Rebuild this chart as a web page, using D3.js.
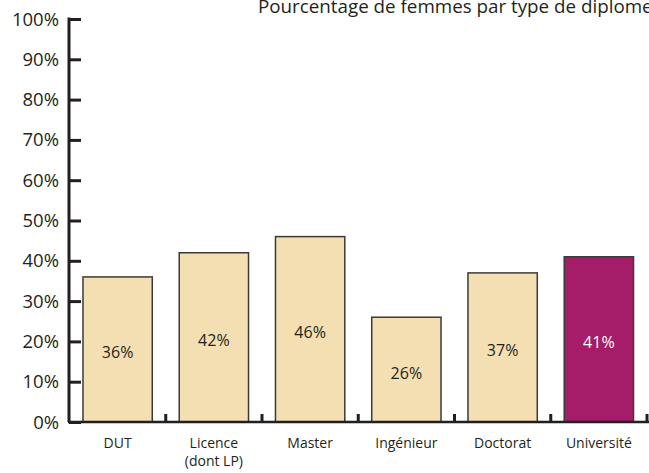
<!DOCTYPE html>
<html>
<head>
<meta charset="utf-8">
<script src="https://cdn.jsdelivr.net/npm/d3@7"></script>
<style>
  html, body { margin: 0; padding: 0; background: #fff; }
  svg { display: block; }
  text { font-family: "Open Sans", "Noto Sans", sans-serif; fill: #231f20; }
</style>
</head>
<body>
<svg id="chart" width="649" height="473"></svg>
<script>
const categories = ["DUT", "Licence\n(dont LP)", "Master", "Ingénieur", "Doctorat", "Université"];
const values = [36, 42, 46, 26, 37, 41];
const valueLabels = ["36%", "42%", "46%", "26%", "37%", "41%"];
const yTicks = [0, 10, 20, 30, 40, 50, 60, 70, 80, 90, 100];
const title = "Pourcentage de femmes par type de diplome";

const svg = d3.select("#chart");
const W = 649, H = 473;

const y = d3.scaleLinear().domain([0, 100]).range([422, 19]);
const x = d3.scaleBand().domain(categories).range([69.5, 647])
  .paddingInner(0.28).paddingOuter(0.14);

// title
svg.append("text")
  .attr("x", 258).attr("y", 13)
  .attr("font-size", 18.8)
  .text(title);

// bars
svg.selectAll("rect.bar").data(categories).join("rect")
  .attr("class", "bar")
  .attr("x", d => x(d))
  .attr("y", (d, i) => y(values[i]))
  .attr("width", x.bandwidth())
  .attr("height", (d, i) => y(0) - y(values[i]))
  .attr("fill", (d, i) => i === categories.length - 1 ? "#a51c68" : "#f3dfb2")
  .attr("stroke", "#3a3a3a")
  .attr("stroke-width", 1.5);

// value labels
svg.selectAll("text.val").data(categories).join("text")
  .attr("class", "val")
  .attr("x", d => x(d) + x.bandwidth() / 2)
  .attr("y", (d, i) => (y(values[i]) + y(0)) / 2 + 9)
  .attr("text-anchor", "middle")
  .attr("font-size", 16)
  .style("fill", (d, i) => i === categories.length - 1 ? "#ffffff" : "#231f20")
  .text((d, i) => valueLabels[i]);

// y axis
const yAxis = d3.axisRight(y).tickValues(yTicks).tickSize(12).tickFormat("");
const gy = svg.append("g").attr("transform", "translate(69,0)").call(yAxis);
gy.select(".domain").attr("stroke", "#231f20").attr("stroke-width", 3)
  .attr("d", `M0,${y(100) - 1.5}V${y(0)}`);
gy.selectAll(".tick line").attr("stroke", "#231f20").attr("stroke-width", 3);

// y tick labels on left
svg.selectAll("text.ylab").data(yTicks).join("text")
  .attr("class", "ylab")
  .attr("x", 59)
  .attr("y", d => y(d) + 6.5)
  .attr("text-anchor", "end")
  .attr("font-size", 18.5)
  .text(d => d + "%");

// x axis baseline
svg.append("line")
  .attr("x1", 68).attr("x2", W)
  .attr("y1", y(0)).attr("y2", y(0))
  .attr("stroke", "#231f20").attr("stroke-width", 2.5);

// small separators between bars
const step = x.step();
const sepX = categories.map((d, i) => x(d) + x.bandwidth() + (step - x.bandwidth()) / 2);
svg.selectAll("line.sep").data(sepX).join("line")
  .attr("class", "sep")
  .attr("x1", d => d).attr("x2", d => d)
  .attr("y1", y(0) - 8).attr("y2", y(0))
  .attr("stroke", "#231f20").attr("stroke-width", 3);

// category labels
const cl = svg.selectAll("text.cat").data(categories).join("text")
  .attr("class", "cat")
  .attr("x", d => x(d) + x.bandwidth() / 2)
  .attr("y", 448)
  .attr("text-anchor", "middle")
  .attr("font-size", 14);
cl.each(function(d) {
  const parts = d.split("\n");
  const t = d3.select(this);
  parts.forEach((p, k) => {
    t.append("tspan")
      .attr("x", t.attr("x"))
      .attr("dy", k === 0 ? 0 : 18)
      .text(p);
  });
});
</script>
</body>
</html>
